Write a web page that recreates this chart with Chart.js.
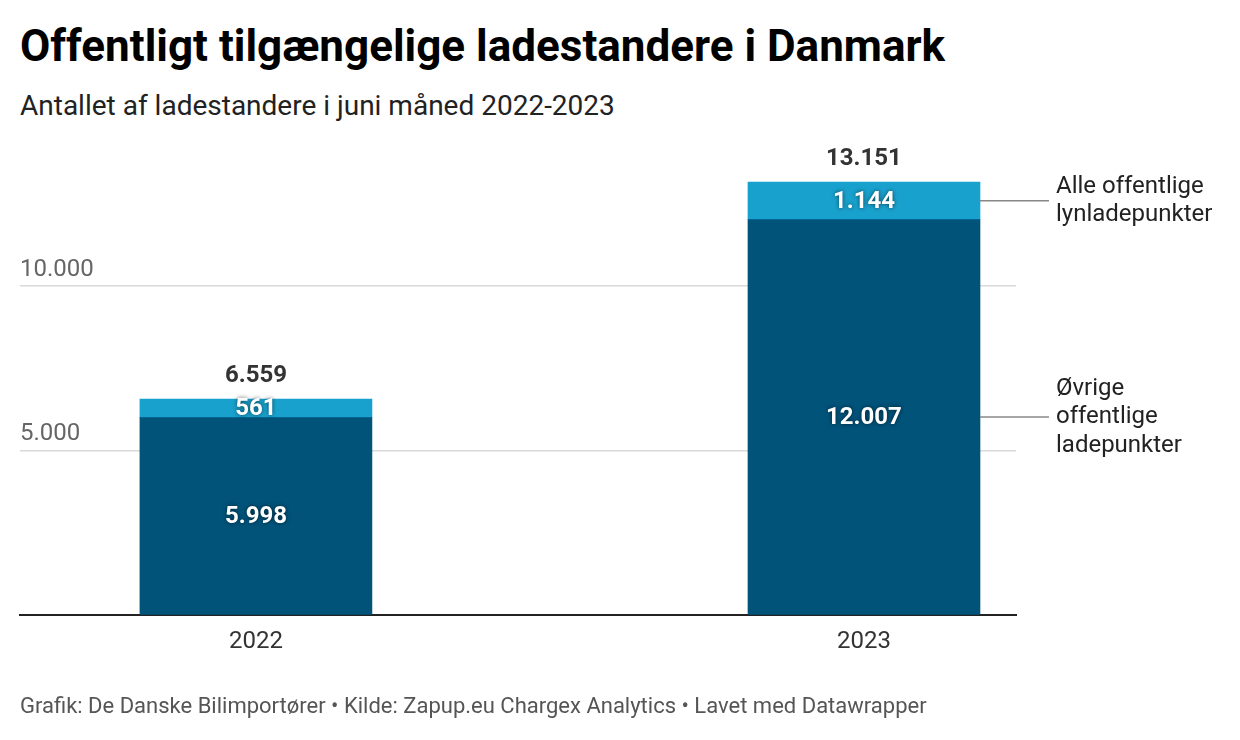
<!DOCTYPE html>
<html>
<head>
<meta charset="utf-8">
<script src="https://cdn.jsdelivr.net/npm/chart.js@4"></script>
<style>
  html, body { margin:0; padding:0; background:#fff; width:1240px; height:740px; overflow:hidden; font-family: Roboto, "Noto Sans", sans-serif; }
  #title { position:absolute; left:20px; top:20px; font-size:44px; font-weight:700; color:#000; line-height:52px; white-space:nowrap; }
  #subtitle { position:absolute; left:20px; top:89px; font-size:28px; color:#222; line-height:34px; white-space:nowrap; }
  #footer { position:absolute; left:20px; top:692px; font-size:22px; color:#555; line-height:28px; white-space:nowrap; }
  #c { position:absolute; left:0; top:0; }
</style>
</head>
<body>
<div id="title">Offentligt tilgængelige ladestandere i Danmark</div>
<div id="subtitle">Antallet af ladestandere i juni måned 2022-2023</div>
<canvas id="c" width="1240" height="740"></canvas>
<div id="footer">Grafik: De Danske Bilimportører • Kilde: Zapup.eu Chargex Analytics • Lavet med Datawrapper</div>
<script>
const years = ['2022', '2023'];
const ovrigeValues = [5998, 12007];
const lynValues = [561, 1144];
const seriesNames = ['Øvrige offentlige ladepunkter', 'Alle offentlige lynladepunkter'];
const seriesLabelLines = [['Øvrige', 'offentlige', 'ladepunkter'], ['Alle offentlige', 'lynladepunkter']];
const yTickValues = [0, 5000, 10000];

const fmt = v => String(v).replace(/\B(?=(\d{3})+(?!\d))/g, '.');

const labelPlugin = {
  id: 'labels',
  afterDatasetsDraw(chart) {
    const ctx = chart.ctx;
    const m0 = chart.getDatasetMeta(0), m1 = chart.getDatasetMeta(1);
    ctx.save();
    ctx.textAlign = 'center';
    ctx.textBaseline = 'middle';
    ctx.font = 'bold 24px Roboto';
    [m0, m1].forEach((meta, di) => {
      meta.data.forEach((bar, i) => {
        const v = chart.data.datasets[di].data[i].y;
        const cy = (bar.y + bar.base) / 2;
        ctx.save();
        ctx.shadowColor = 'rgba(0,0,0,0.6)';
        ctx.shadowBlur = 4;
        ctx.fillStyle = '#fff';
        ctx.fillText(fmt(v), bar.x, cy + 1);
        ctx.restore();
      });
    });
    ctx.fillStyle = '#333';
    m1.data.forEach((bar, i) => {
      const total = ovrigeValues[i] + lynValues[i];
      ctx.fillText(fmt(total), bar.x, bar.y - 23);
    });
    const last = years.length - 1;
    ctx.font = '24px Roboto';
    ctx.textAlign = 'left';
    [m0, m1].forEach((meta, di) => {
      const bar = meta.data[last];
      const cy = (bar.y + bar.base) / 2;
      const right = bar.x + bar.width / 2;
      ctx.strokeStyle = '#888';
      ctx.lineWidth = 1.5;
      ctx.beginPath();
      ctx.moveTo(right, cy);
      ctx.lineTo(right + 69, cy);
      ctx.stroke();
      const lines = seriesLabelLines[di];
      const lh = 28.5;
      ctx.fillStyle = '#222';
      lines.forEach((t, k) => {
        ctx.fillText(t, right + 76, cy + (k - (lines.length - 1) / 2) * lh);
      });
    });
    ctx.restore();
  }
};

new Chart(document.getElementById('c'), {
  type: 'bar',
  data: {
    datasets: [
      { label: seriesNames[0], data: ovrigeValues.map((v, i) => ({ x: i, y: v })), backgroundColor: '#01537a', barThickness: 232, borderWidth: 0 },
      { label: seriesNames[1], data: lynValues.map((v, i) => ({ x: i, y: v })), backgroundColor: '#19a1cd', barThickness: 232, borderWidth: 0 }
    ]
  },
  options: {
    responsive: false,
    animation: false,
    devicePixelRatio: 1,
    layout: { padding: { left: 20, right: 224, top: 154, bottom: 72 } },
    plugins: { legend: { display: false }, tooltip: { enabled: false } },
    scales: {
      x: {
        type: 'linear',
        stacked: true,
        offset: false,
        min: -0.388,
        max: 1.25,
        afterBuildTicks: axis => { axis.ticks = years.map((y, i) => ({ value: i })); },
        ticks: { callback: v => years[v] ?? '', font: { family: 'Roboto', size: 24 }, color: '#333', padding: 12, maxRotation: 0, autoSkip: false },
        grid: { display: false, drawTicks: false, offset: false },
        border: { display: true, color: '#222', width: 2 }
      },
      y: {
        stacked: true,
        min: 0,
        max: 14000,
        afterBuildTicks: axis => { axis.ticks = yTickValues.map(v => ({ value: v })); },
        ticks: { mirror: true, padding: 0, labelOffset: -16, callback: v => v === 0 ? '' : fmt(v), font: { family: 'Roboto', size: 24 }, color: '#666' },
        grid: { drawTicks: false, color: ctx => ctx.tick && ctx.tick.value === 0 ? 'rgba(0,0,0,0)' : '#d9d9d9', lineWidth: 1.5 },
        border: { display: false }
      }
    }
  },
  plugins: [labelPlugin]
});
</script>
</body>
</html>
